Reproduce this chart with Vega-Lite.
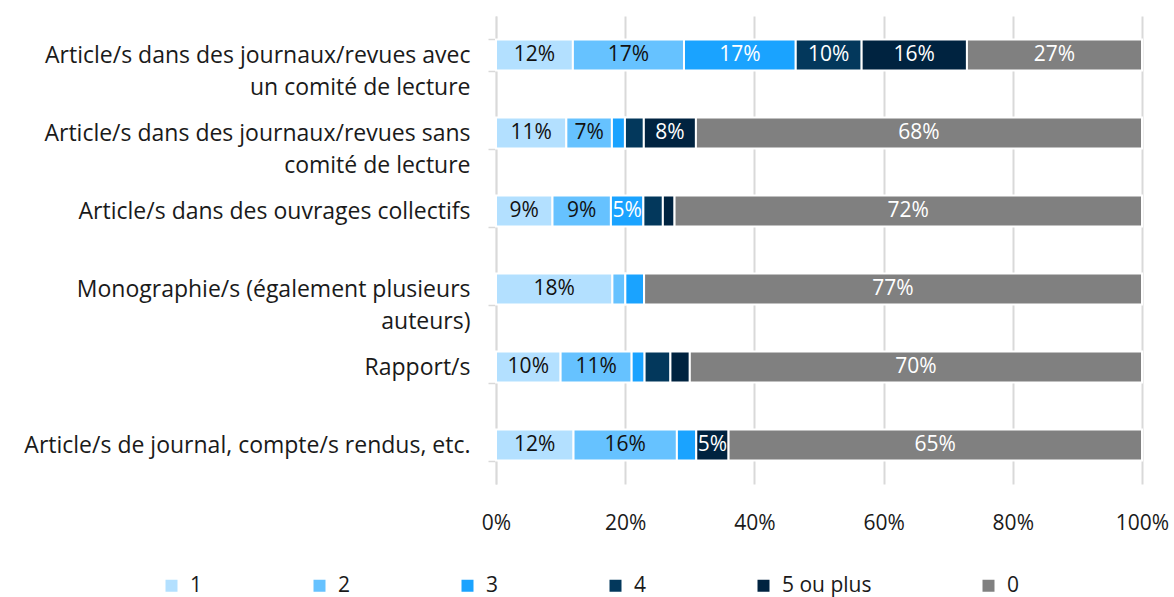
{
  "$schema": "https://vega.github.io/schema/vega-lite/v6.json",
  "width": 646,
  "height": 468,
  "autosize": {"type": "none"},
  "padding": {"left": 496, "top": 16, "right": 32, "bottom": 113},
  "background": "white",
  "config": {"font": "Open Sans", "view": {"stroke": null}},
  "data": {"values": [
    {"cat": "Article/s dans des journaux/revues avec|un comité de lecture", "n": "1", "k": 1, "v": 11.9, "lab": "12%"},
    {"cat": "Article/s dans des journaux/revues avec|un comité de lecture", "n": "2", "k": 2, "v": 17.2, "lab": "17%"},
    {"cat": "Article/s dans des journaux/revues avec|un comité de lecture", "n": "3", "k": 3, "v": 17.3, "lab": "17%"},
    {"cat": "Article/s dans des journaux/revues avec|un comité de lecture", "n": "4", "k": 4, "v": 10.2, "lab": "10%"},
    {"cat": "Article/s dans des journaux/revues avec|un comité de lecture", "n": "5 ou plus", "k": 5, "v": 16.3, "lab": "16%"},
    {"cat": "Article/s dans des journaux/revues avec|un comité de lecture", "n": "0", "k": 6, "v": 27.1, "lab": "27%"},
    {"cat": "Article/s dans des journaux/revues sans|comité de lecture", "n": "1", "k": 1, "v": 10.8, "lab": "11%"},
    {"cat": "Article/s dans des journaux/revues sans|comité de lecture", "n": "2", "k": 2, "v": 7.0, "lab": "7%"},
    {"cat": "Article/s dans des journaux/revues sans|comité de lecture", "n": "3", "k": 3, "v": 2.0, "lab": ""},
    {"cat": "Article/s dans des journaux/revues sans|comité de lecture", "n": "4", "k": 4, "v": 2.9, "lab": ""},
    {"cat": "Article/s dans des journaux/revues sans|comité de lecture", "n": "5 ou plus", "k": 5, "v": 8.0, "lab": "8%"},
    {"cat": "Article/s dans des journaux/revues sans|comité de lecture", "n": "0", "k": 6, "v": 68.5, "lab": "68%"},
    {"cat": "Article/s dans des ouvrages collectifs", "n": "1", "k": 1, "v": 8.7, "lab": "9%"},
    {"cat": "Article/s dans des ouvrages collectifs", "n": "2", "k": 2, "v": 9.0, "lab": "9%"},
    {"cat": "Article/s dans des ouvrages collectifs", "n": "3", "k": 3, "v": 5.0, "lab": "5%"},
    {"cat": "Article/s dans des ouvrages collectifs", "n": "4", "k": 4, "v": 3.0, "lab": ""},
    {"cat": "Article/s dans des ouvrages collectifs", "n": "5 ou plus", "k": 5, "v": 1.8, "lab": ""},
    {"cat": "Article/s dans des ouvrages collectifs", "n": "0", "k": 6, "v": 72.0, "lab": "72%"},
    {"cat": "Monographie/s (également plusieurs|auteurs)", "n": "1", "k": 1, "v": 18.0, "lab": "18%"},
    {"cat": "Monographie/s (également plusieurs|auteurs)", "n": "2", "k": 2, "v": 2.0, "lab": ""},
    {"cat": "Monographie/s (également plusieurs|auteurs)", "n": "3", "k": 3, "v": 2.9, "lab": ""},
    {"cat": "Monographie/s (également plusieurs|auteurs)", "n": "0", "k": 6, "v": 77.0, "lab": "77%"},
    {"cat": "Rapport/s", "n": "1", "k": 1, "v": 10.0, "lab": "10%"},
    {"cat": "Rapport/s", "n": "2", "k": 2, "v": 11.0, "lab": "11%"},
    {"cat": "Rapport/s", "n": "3", "k": 3, "v": 2.0, "lab": ""},
    {"cat": "Rapport/s", "n": "4", "k": 4, "v": 4.0, "lab": ""},
    {"cat": "Rapport/s", "n": "5 ou plus", "k": 5, "v": 3.0, "lab": ""},
    {"cat": "Rapport/s", "n": "0", "k": 6, "v": 70.0, "lab": "70%"},
    {"cat": "Article/s de journal, compte/s rendus, etc.", "n": "1", "k": 1, "v": 12.0, "lab": "12%"},
    {"cat": "Article/s de journal, compte/s rendus, etc.", "n": "2", "k": 2, "v": 16.0, "lab": "16%"},
    {"cat": "Article/s de journal, compte/s rendus, etc.", "n": "3", "k": 3, "v": 3.0, "lab": ""},
    {"cat": "Article/s de journal, compte/s rendus, etc.", "n": "5 ou plus", "k": 5, "v": 5.0, "lab": "5%"},
    {"cat": "Article/s de journal, compte/s rendus, etc.", "n": "0", "k": 6, "v": 64.0, "lab": "65%"}
  ]},
  "encoding": {
    "y": {
      "field": "cat", "type": "nominal", "sort": null, "title": null,
      "scale": {"paddingInner": 0.6, "paddingOuter": 0.3},
      "axis": {
        "labelExpr": "split(datum.label, '|')",
        "labelFontSize": 23, "labelColor": "#1a1a1a", "labelLimit": 600,
        "labelLineHeight": 32, "labelPadding": 18,
        "domainColor": "#d9d9d9", "domainWidth": 1.5,
        "tickColor": "#d9d9d9", "tickSize": 8, "tickWidth": 1.5, "tickBand": "extent"
      }
    },
    "x": {
      "field": "v", "type": "quantitative", "stack": "normalize", "title": null,
      "scale": {"domain": [0, 1], "nice": false},
      "axis": {
        "values": [0, 0.2, 0.4, 0.6, 0.8, 1], "format": ".0%",
        "grid": true, "gridColor": "#d9d9d9", "gridWidth": 2,
        "domain": false, "ticks": false, "labelFlush": false,
        "labelFontSize": 21, "labelColor": "#1a1a1a", "labelPadding": 28
      }
    },
    "order": {"field": "k", "type": "quantitative"}
  },
  "layer": [
    {
      "mark": {"type": "bar", "stroke": "white", "strokeWidth": 2},
      "encoding": {
        "color": {
          "field": "n", "type": "nominal", "title": null,
          "scale": {
            "domain": ["1", "2", "3", "4", "5 ou plus", "0"],
            "range": ["#b3e0ff", "#66c2ff", "#1aa3ff", "#03385c", "#002340", "#808080"]
          },
          "legend": {
            "orient": "none", "direction": "horizontal", "padding": 0,
            "legendX": -335, "legendY": 559,
            "symbolType": "square", "symbolSize": 144, "symbolStrokeWidth": 0,
            "labelFontSize": 21, "labelColor": "#1a1a1a", "labelOffset": 8,
            "columnPadding": 106
          }
        }
      }
    },
    {
      "mark": {"type": "text", "fontSize": 21, "align": "center", "baseline": "middle"},
      "encoding": {
        "x": {"field": "v", "type": "quantitative", "stack": "normalize", "bandPosition": 0.5},
        "text": {"field": "lab", "type": "nominal"},
        "color": {
          "condition": {"test": "datum.n == '1' || datum.n == '2'", "value": "#111111"},
          "value": "white"
        }
      }
    }
  ]
}
